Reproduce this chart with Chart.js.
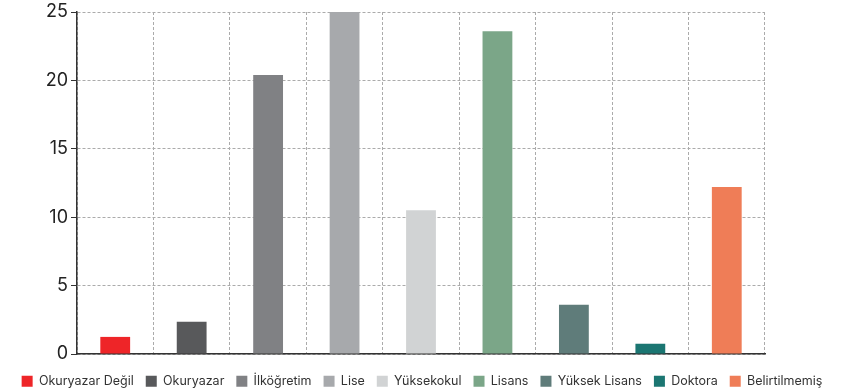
<!DOCTYPE html>
<html>
<head>
<meta charset="utf-8">
<script src="https://cdn.jsdelivr.net/npm/chart.js@4"></script>
<style>
  html, body { margin: 0; padding: 0; background: #fff; }
  #wrap { width: 844px; height: 391px; }
</style>
</head>
<body>
<div id="wrap"><canvas id="bar-chart"></canvas></div>
<script>
const categories = ["Okuryazar Değil", "Okuryazar", "İlköğretim", "Lise", "Yüksekokul", "Lisans", "Yüksek Lisans", "Doktora", "Belirtilmemiş"];
const values = [1.25, 2.35, 20.4, 25.0, 10.5, 23.6, 3.6, 0.75, 12.2];
const colors = ["#ee2528", "#58595b", "#808184", "#a7a9ac", "#d1d3d4", "#7ba688", "#5f7c7a", "#1b7672", "#ef7d57"];
const yTicks = [0, 5, 10, 15, 20, 25];

// one dataset per category so each one gets its own legend entry
const datasets = categories.map(function (c, i) {
  const data = categories.map(function (_, j) {
    return j === i ? values[i] : null;
  });
  return {
    label: c,
    data: data,
    backgroundColor: colors[i],
    borderWidth: 0,
    barPercentage: 0.39,
    categoryPercentage: 1,
    skipNull: true,
  };
});

const font = "Inter, 'Noto Sans', sans-serif";

new Chart(document.getElementById("bar-chart"), {
  type: "bar",
  data: {
    labels: categories,
    datasets: datasets,
  },
  options: {
    responsive: true,
    maintainAspectRatio: false,
    animation: false,
    layout: {
      padding: { left: 0, right: 0, top: 12, bottom: -6.5 },
    },
    plugins: {
      tooltip: { enabled: false },
      legend: {
        position: "bottom",
        labels: {
          boxWidth: 11,
          boxHeight: 11,
          padding: 12,
          color: "#333",
          font: { family: font, size: 12.5 },
        },
      },
    },
    scales: {
      x: {
        afterFit: function (axis) {
          axis.height = 9;
        },
        grid: {
          offset: true,
          color: "#ababab",
          drawTicks: false,
        },
        border: { color: "#333", width: 1.5, dash: [3, 2] },
        ticks: { display: false },
      },
      y: {
        min: 0,
        max: 25,
        afterBuildTicks: function (axis) {
          axis.ticks = yTicks.map(function (v) {
            return { value: v };
          });
        },
        afterFit: function (axis) {
          axis.width = 77;
          axis.paddingTop = 0;
        },
        grid: {
          color: "#ababab",
          tickColor: "#333",
          tickLength: 6,
        },
        border: { color: "#333", width: 1.5, dash: [3, 2] },
        ticks: {
          color: "#222",
          padding: 3,
          font: { family: font, size: 18, lineHeight: 1 },
        },
      },
      // empty axis on the right, only to keep the space beside the plot
      yRight: {
        position: "right",
        min: 0,
        max: 25,
        afterFit: function (axis) {
          axis.width = 79;
          axis.paddingTop = 0;
        },
        grid: { drawOnChartArea: false, drawTicks: false },
        border: { display: false },
        ticks: { display: false },
      },
    },
  },
});
</script>
</body>
</html>
